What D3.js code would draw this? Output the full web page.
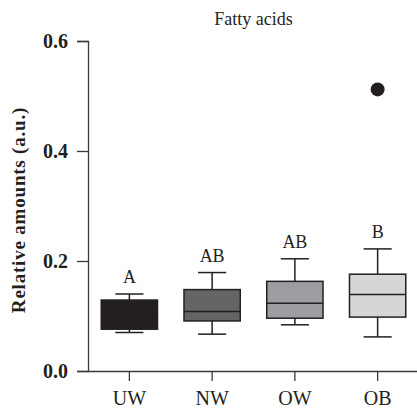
<!DOCTYPE html>
<html>
<head>
<meta charset="utf-8">
<script src="https://cdn.jsdelivr.net/npm/d3@7"></script>
<style>
  html, body { margin: 0; padding: 0; background: #fff; }
  svg { display: block; }
  text { font-family: "Liberation Serif", "Times New Roman", serif; fill: #231f20; }
</style>
</head>
<body>
<svg id="chart" width="417" height="413"></svg>
<script>
// Groups and five-number summaries (relative amounts, a.u.)
const groups = ["UW", "NW", "OW", "OB"];
const whiskerLow  = [0.070, 0.067, 0.084, 0.062];
const quartile1   = [0.076, 0.091, 0.096, 0.098];
const medians     = [0.100, 0.108, 0.123, 0.139];
const quartile3   = [0.129, 0.148, 0.163, 0.176];
const whiskerHigh = [0.140, 0.179, 0.204, 0.222];
const letters     = ["A", "AB", "AB", "B"];
const fills       = ["#231f20", "#666566", "#9c9da1", "#d5d6d8"];
// Outlying observations: [group, value]
const outliers = [["OB", 0.512]];
const yTicks = [0.0, 0.2, 0.4, 0.6];

const svg = d3.select("#chart");
const ink = "#231f20";

const x = d3.scaleBand().domain(groups).range([88, 419]).padding(0);
const y = d3.scaleLinear().domain([0, 0.6]).range([371, 41]);
const boxW = x.bandwidth() * 0.68;
const capW = boxW / 2;

// Y axis
const yAxis = svg.append("g")
  .attr("transform", "translate(88,0)")
  .call(d3.axisLeft(y).tickValues(yTicks).tickFormat(d3.format(".1f")).tickSize(11).tickPadding(9));
yAxis.select(".domain").attr("stroke", "#3a3a3a").attr("stroke-width", 1.3);
yAxis.selectAll(".tick line").attr("stroke", "#3a3a3a").attr("stroke-width", 1.3);
yAxis.selectAll(".tick text")
  .style("font-family", "'Liberation Serif', serif")
  .style("font-weight", "bold").style("font-size", "20px").attr("fill", ink);

// X axis
const xAxis = svg.append("g")
  .attr("transform", "translate(0,371)")
  .call(d3.axisBottom(x).tickSize(10).tickSizeOuter(0).tickPadding(10));
xAxis.select(".domain").attr("stroke", "#3a3a3a").attr("stroke-width", 1.3);
xAxis.selectAll(".tick line").attr("stroke", "#3a3a3a").attr("stroke-width", 1.3);
xAxis.selectAll(".tick text")
  .style("font-family", "'Liberation Serif', serif")
  .style("font-size", "20px").attr("fill", ink);

// Axis title
svg.append("text")
  .attr("transform", "translate(25,210) rotate(-90)")
  .attr("text-anchor", "middle")
  .style("font-weight", "bold").style("font-size", "19px")
  .style("letter-spacing", "0.8px")
  .text("Relative amounts (a.u.)");

// Chart title
svg.append("text")
  .attr("x", (88 + 419) / 2).attr("y", 25)
  .attr("text-anchor", "middle")
  .style("font-size", "18px")
  .text("Fatty acids");

// Box plots
const boxes = svg.append("g").selectAll("g").data(groups).join("g")
  .attr("transform", d => `translate(${x(d) + x.bandwidth() / 2},0)`);

boxes.append("line")
  .attr("y1", (d, i) => y(whiskerHigh[i])).attr("y2", (d, i) => y(quartile3[i]))
  .attr("stroke", ink).attr("stroke-width", 1.5);
boxes.append("line")
  .attr("y1", (d, i) => y(whiskerLow[i])).attr("y2", (d, i) => y(quartile1[i]))
  .attr("stroke", ink).attr("stroke-width", 1.5);
boxes.append("line")
  .attr("x1", -capW / 2).attr("x2", capW / 2)
  .attr("y1", (d, i) => y(whiskerHigh[i])).attr("y2", (d, i) => y(whiskerHigh[i]))
  .attr("stroke", ink).attr("stroke-width", 1.5);
boxes.append("line")
  .attr("x1", -capW / 2).attr("x2", capW / 2)
  .attr("y1", (d, i) => y(whiskerLow[i])).attr("y2", (d, i) => y(whiskerLow[i]))
  .attr("stroke", ink).attr("stroke-width", 1.5);
boxes.append("rect")
  .attr("x", -boxW / 2).attr("width", boxW)
  .attr("y", (d, i) => y(quartile3[i]))
  .attr("height", (d, i) => y(quartile1[i]) - y(quartile3[i]))
  .attr("fill", (d, i) => fills[i])
  .attr("stroke", ink).attr("stroke-width", 1.5);
boxes.append("line")
  .attr("x1", -boxW / 2).attr("x2", boxW / 2)
  .attr("y1", (d, i) => y(medians[i])).attr("y2", (d, i) => y(medians[i]))
  .attr("stroke", ink).attr("stroke-width", 1.5);
boxes.append("text")
  .attr("y", (d, i) => y(whiskerHigh[i]) - 11)
  .attr("text-anchor", "middle")
  .style("font-size", "18px")
  .text((d, i) => letters[i]);

// Outliers
svg.append("g").selectAll("circle").data(outliers).join("circle")
  .attr("cx", d => x(d[0]) + x.bandwidth() / 2)
  .attr("cy", d => y(d[1]))
  .attr("r", 7)
  .attr("fill", ink);
</script>
</body>
</html>
